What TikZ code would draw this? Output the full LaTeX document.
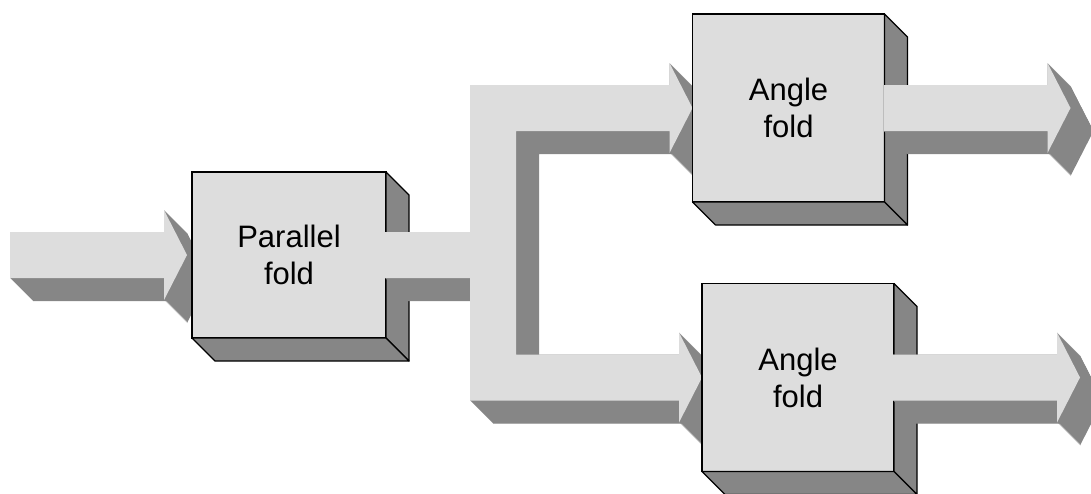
\documentclass[tikz,border=0pt]{standalone}
\usepackage{fontspec}
\setmainfont{Liberation Sans}
\usetikzlibrary{calc}
\pgfdeclarelayer{back}
\pgfdeclarelayer{front}
\pgfdeclarelayer{top}
\pgfsetlayers{back,main,front,top}
\definecolor{facegray}{RGB}{221,221,221}
\definecolor{sidegray}{RGB}{134,134,134}

\begin{document}
\begin{tikzpicture}[x=0.5pt, y=-0.5pt,
  foldbox/.style={draw, line width=0.6pt, fill=facegray, inner sep=0pt, outer sep=0pt, align=center, font=\fontsize{15.5}{18.5}\selectfont},
  sideface/.style={draw, line width=0.6pt, fill=sidegray, line join=round}]
\def\dep{23}
\def\sw{23}
\def\hw{45}
\def\hl{23}
\def\sides#1{%
  \draw[sideface] (#1.north east) -- ++(\dep,\dep) -- ($(#1.south east)+(\dep,\dep)$) -- (#1.south east) -- cycle;
  \draw[sideface] (#1.south west) -- ++(\dep,\dep) -- ($(#1.south east)+(\dep,\dep)$) -- (#1.south east) -- cycle;}
\def\extrude#1{%
  \foreach \t in {0,0.5,...,\dep} {\fill[sidegray, transform canvas={shift={(\t,\t)}}] #1;}
  \fill[facegray] #1;}

\useasboundingbox (0,0) rectangle (1091,493);

%boxes
\node[foldbox, minimum width=97pt, minimum height=83pt] (par) at (289,255) {Parallel\\fold};
\sides{par}
\begin{pgfonlayer}{front}
  \node[foldbox, minimum width=96pt, minimum height=94pt] (angA) at (788.5,108) {Angle\\fold};
  \sides{angA}
  \node[foldbox, minimum width=96pt, minimum height=94pt] (angB) at (798,377.5) {Angle\\fold};
  \sides{angB}
\end{pgfonlayer}

%input arrow
\coordinate (src) at (10,255);
\coordinate (tin) at ($(par.west)+(-5,0)$);
\begin{pgfonlayer}{back}
  \extrude{($(src)+(0,-\sw)$) -- ($(tin)+(-\hl,-\sw)$) -- ($(tin)+(-\hl,-\hw)$) -- (tin) -- ($(tin)+(-\hl,\hw)$) -- ($(tin)+(-\hl,\sw)$) -- ($(src)+(0,\sw)$) -- cycle}
\end{pgfonlayer}

%split into both angle folds
\coordinate (fork) at (493,255);
\extrude{($(par.east)+(-1,-\sw)$) -- ($(fork|-par.east)+(-\sw,-\sw)$) -- ($(fork|-angA.west)+(-\sw,-\sw)$)
  -- ($(angA.west)+(-\hl,-\sw)$) -- ($(angA.west)+(-\hl,-\hw)$) -- (angA.west) -- ($(angA.west)+(-\hl,\hw)$) -- ($(angA.west)+(-\hl,\sw)$)
  -- ($(fork|-angA.west)+(\sw,\sw)$) -- ($(fork|-angB.west)+(\sw,-\sw)$)
  -- ($(angB.west)+(-\hl,-\sw)$) -- ($(angB.west)+(-\hl,-\hw)$) -- (angB.west) -- ($(angB.west)+(-\hl,\hw)$) -- ($(angB.west)+(-\hl,\sw)$)
  -- ($(fork|-angB.west)+(-\sw,\sw)$) -- ($(fork|-par.east)+(-\sw,\sw)$) -- ($(par.east)+(-1,\sw)$) -- cycle}

%output arrows
\foreach \b in {angA,angB} {
  \coordinate (\b-out) at ($(\b.east)+(186,0)$);
  \begin{pgfonlayer}{top}
    \extrude{($(\b.east)+(-1,-\sw)$) -- ($(\b-out)+(-\hl,-\sw)$) -- ($(\b-out)+(-\hl,-\hw)$) -- (\b-out) -- ($(\b-out)+(-\hl,\hw)$) -- ($(\b-out)+(-\hl,\sw)$) -- ($(\b.east)+(-1,\sw)$) -- cycle}
  \end{pgfonlayer}
}

\end{tikzpicture}
\end{document}
